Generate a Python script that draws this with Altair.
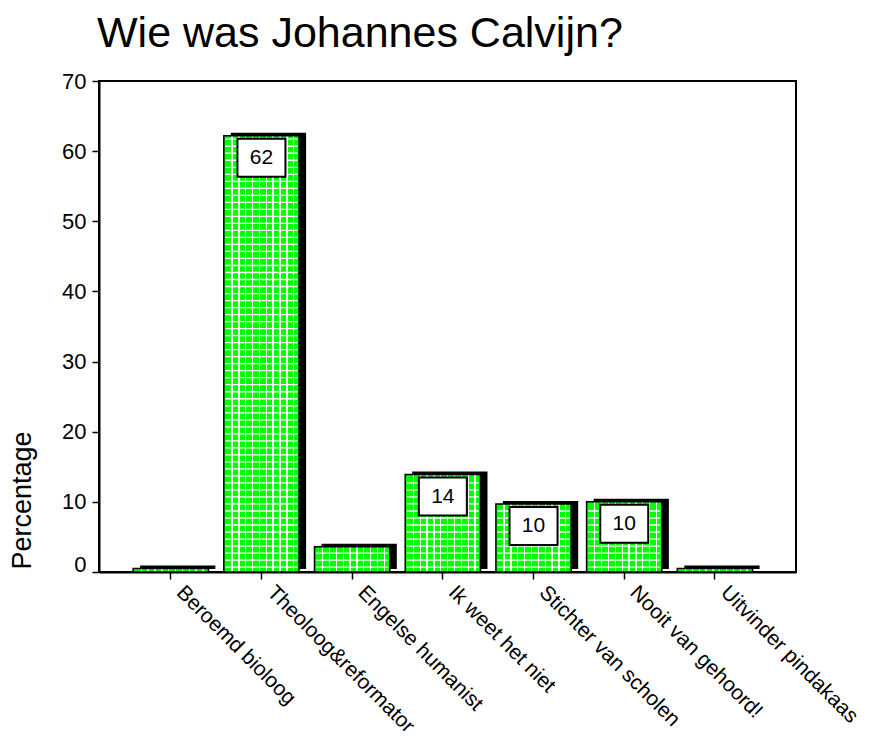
import altair as alt
import pandas as pd

categories = ["Beroemd bioloog", "Theoloog&reformator", "Engelse humanist",
              "Ik weet het niet", "Stichter van scholen", "Nooit van gehoord!",
              "Uitvinder pindakaas"]
percentages = [0.5, 62.2, 3.6, 13.9, 9.7, 10.0, 0.5]
labels = ["", "62", "", "14", "10", "10", ""]
y_ticks = [0, 10, 20, 30, 40, 50, 60, 70]
title_text = "Wie was Johannes Calvijn?"
y_title = "Percentage"

GREEN = "#00ff00"
FONT = "Liberation Sans"

df = pd.DataFrame({"cat": categories, "pct": percentages, "label": labels})
box_df = df[df["label"] != ""]

# white horizontal lines of the bars' grid pattern, one per unit inside each bar
rows = []
for c, v in zip(categories, percentages):
    k = 0
    while k + 0.7 < v - 0.3:
        rows.append({"cat": c, "pct": k + 0.7})
        k += 1
grid_df = pd.DataFrame(rows)

# vertical white lines of the grid pattern via a striped gradient
stops = [alt.GradientStop(offset=0, color=GREEN)]
for k in range(10):
    a = 0.1 + 0.091 * k
    b = a + 0.018
    stops += [alt.GradientStop(offset=a, color=GREEN),
              alt.GradientStop(offset=a, color="white"),
              alt.GradientStop(offset=b, color="white"),
              alt.GradientStop(offset=b, color=GREEN)]
stops.append(alt.GradientStop(offset=1, color=GREEN))
grid_fill = alt.LinearGradient(gradient="linear", stops=stops, x1=0, x2=1, y1=0, y2=0)

X = alt.X(
    "cat:N", sort=categories,
    scale=alt.Scale(paddingInner=0.17, paddingOuter=0.4275, align=0.44),
    axis=alt.Axis(title=None, labelAngle=45, labelAlign="left", labelBaseline="middle",
                  labelFontSize=21, labelPadding=10, labelOffset=9, labelLimit=400,
                  labelOverlap=False,
                  tickSize=7, tickColor="black", tickWidth=1.5,
                  domainColor="black", domainWidth=2, labelColor="black", labelFont=FONT),
)
Y = alt.Y(
    "pct:Q", scale=alt.Scale(domain=[0, 70], nice=False, zero=True),
    axis=alt.Axis(values=y_ticks, title=y_title, titleFontSize=27, titleFontWeight="normal",
                  titleFont=FONT, titleColor="black", titleX=-77, titleY=419,
                  titleAngle=-90, titleAlign="center", titleBaseline="middle",
                  labelFontSize=22, labelFont=FONT, labelColor="black", labelPadding=6,
                  labelOffset={"condition": {"test": "datum.value === 0", "value": -8}, "value": 0},
                  tickSize=7, tickColor="black", tickWidth=1.5, grid=False,
                  domainColor="black", domainWidth=2),
)

shadow = alt.Chart(df).mark_bar(color="black", xOffset=7, yOffset=-3).encode(x=X, y=Y)
bars = alt.Chart(df).mark_bar(fill=grid_fill, stroke="black", strokeWidth=1.5).encode(x=X, y=Y)
hlines = alt.Chart(grid_df).mark_tick(color="white", orient="horizontal", size=72,
                                      thickness=1.3, opacity=1).encode(x=X, y=Y)
boxes = alt.Chart(box_df).mark_bar(fill="white", stroke="black", strokeWidth=2, width=48,
                                   yOffset=3, y2Offset=41).encode(x=X, y=Y, y2=alt.Y2("pct"))
texts = alt.Chart(box_df).mark_text(font=FONT, fontSize=21, color="black", yOffset=22,
                                    baseline="middle").encode(x=X, y=Y, text="label:N")

chart = alt.layer(shadow, bars, hlines, boxes, texts).properties(
    width=697, height=491,
    title=alt.TitleParams(title_text, font=FONT, fontSize=43, fontWeight="normal",
                          color="black", anchor="start", frame="group", dx=-2, offset=14),
    autosize=alt.AutoSizeParams(type="none"),
    padding={"left": 91, "top": 73, "right": 68, "bottom": 165},
).configure(
    font=FONT,
    view=alt.ViewConfig(stroke="black", strokeWidth=2),
)

chart.save("out.html", embed_options={"renderer": "svg", "actions": False})
